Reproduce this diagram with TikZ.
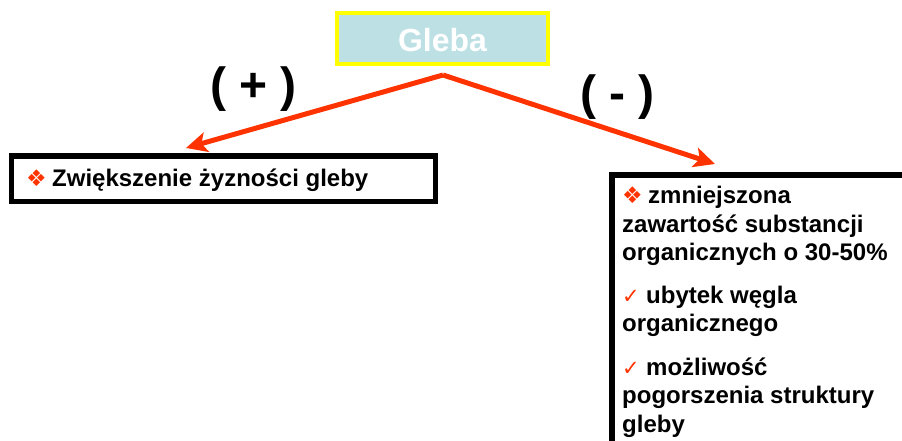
\documentclass[tikz,border=0pt]{standalone}
\usepackage{fontspec}
\setmainfont{Liberation Sans}
\newfontfamily\symfont{DejaVu Sans}
\usetikzlibrary{arrows.meta}
\definecolor{arrowred}{RGB}{255,51,0}
\definecolor{boxblue}{RGB}{188,224,228}
\definecolor{boxyellow}{RGB}{255,255,0}
\newcommand{\diabullet}{\makebox[26pt][l]{\raisebox{0pt}{\symfont\fontsize{23}{23}\selectfont\color{arrowred}❖}}}
\newcommand{\checkbullet}{\makebox[24pt][l]{\symfont\fontsize{21}{21}\selectfont\color{arrowred}✓}}
\tikzset{
  txt/.style={anchor=base west, inner sep=0pt, font=\bfseries\fontsize{24}{28}\selectfont},
  sign/.style={anchor=base, inner sep=0pt, font=\bfseries\fontsize{48}{48}\selectfont},
  framebox/.style={draw=black, line width=5.5pt},
  link/.style={draw=arrowred, line width=5pt,
    -{Stealth[length=21pt, width=20pt, inset=5pt]}},
}
\begin{document}
\begin{tikzpicture}[x=1pt, y=-1pt]
  \useasboundingbox (0,0) rectangle (902,441);
  \clip (0,0) rectangle (902,441);

  % top box
  \node (gleba) [draw=boxyellow, fill=boxblue, line width=4pt,
    minimum width=211pt, minimum height=51pt, inner sep=0pt]
    at (442.5,38.8) {};
  \node (glebatxt) [anchor=base, inner sep=0pt, text=white,
    font=\bfseries\fontsize{32}{32}\selectfont] at (442.5,51.5) {Gleba};

  % branches
  \coordinate (fork) at (443,75);
  \coordinate (ltip) at (186,148);
  \coordinate (rtip) at (715,164);
  \draw[link] (fork) -- (ltip);
  \draw[link] (fork) -- (rtip);

  \node (plus) [sign] at (253.5,102) {( + )};
  \node (minus) [sign] at (617.5,110) {( - )};

  % left box
  \node (lbox) [framebox, minimum width=424pt, minimum height=45.5pt, inner sep=0pt]
    at (223.5,178.8) {};
  \node (l1) [txt] at (26,186.5) {\diabullet Zwiększenie żyzności gleby};

  % right box
  \node (rbox) [framebox, minimum width=320pt, minimum height=300pt,
    inner sep=0pt, anchor=north west] at (609,172) {};
  \node (r1) [txt] at (622,203) {\diabullet zmniejszona};
  \node (r2) [txt] at (622,232) {zawartość substancji};
  \node (r3) [txt] at (622,260) {organicznych o 30-50\%};
  \node (r4) [txt] at (622,303) {\checkbullet ubytek węgla};
  \node (r5) [txt] at (622,331) {organicznego};
  \node (r6) [txt] at (622,375) {\checkbullet możliwość};
  \node (r7) [txt] at (622,403) {pogorszenia struktury};
  \node (r8) [txt] at (622,432) {gleby};
\end{tikzpicture}
\end{document}
